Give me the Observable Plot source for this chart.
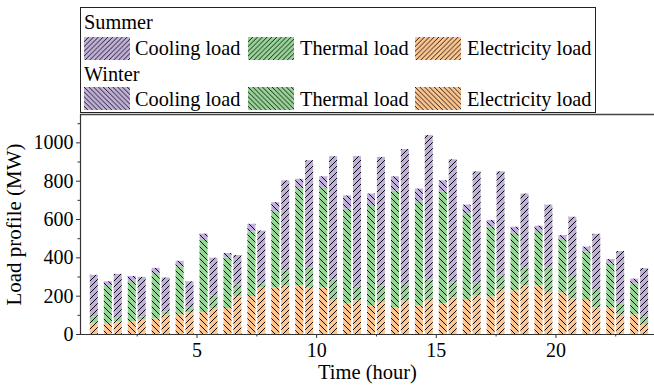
<!DOCTYPE html>
<html>
<head>
<meta charset="utf-8">
<script src="https://cdn.jsdelivr.net/npm/d3@7"></script>
<script src="https://cdn.jsdelivr.net/npm/@observablehq/plot@0.6"></script>
<style>
  html, body { margin: 0; padding: 0; background: #fff; }
  body { width: 654px; height: 387px; overflow: hidden; font-family: "Liberation Serif", "DejaVu Serif", serif; }
  #legend { position: relative; width: 654px; height: 113px; }
  #legend .box { position: absolute; left: 80px; top: 7px; width: 516px; height: 106px; border: 1px solid #222; box-sizing: border-box; }
  #legend .t { position: absolute; font-family: "Liberation Serif", "DejaVu Serif", serif; font-size: 20.3px; line-height: 24px; color: #000; white-space: nowrap; }
  #legend svg.sw { position: absolute; }
  #chart svg { display: block; }
  #chart svg text { font-family: "Liberation Serif", "DejaVu Serif", serif; }
  #chart g[aria-label="y-axis label"] text { font-size: 21px; }
  #chart g[aria-label="x-axis label"] text { font-size: 20.5px; }
</style>
</head>
<body>
<svg width="0" height="0" style="position:absolute">
  <defs id="defs"></defs>
</svg>
<div id="legend"></div>
<div id="chart"></div>
<script>
// ---- data ----
const hours = [1,2,3,4,5,6,7,8,9,10,11,12,13,14,15,16,17,18,19,20,21,22,23,24];
const seasons = ["Summer", "Winter"];
const loadTypes = ["Electricity load", "Thermal load", "Cooling load"];
const summerElectricity = [58, 67, 75, 103, 114, 135, 198, 244, 254, 246, 179, 175, 168, 175, 179, 191, 200, 233, 253, 219, 186, 139, 102, 53];
const summerThermal     = [35, 21, 16, 15, 26, 67, 60, 19, 79, 101, 105, 74, 86, 85, 105, 79, 67, 72, 93, 127, 117, 91, 56, 40];
const summerCooling     = [216, 226, 207, 177, 135, 196, 154, 277, 469, 560, 644, 679, 670, 705, 754, 642, 582, 544, 387, 329, 309, 293, 275, 251];
const winterElectricity = [58, 67, 81, 103, 114, 135, 198, 244, 254, 244, 160, 149, 139, 149, 160, 179, 196, 228, 254, 217, 179, 139, 102, 55];
const winterThermal     = [193, 210, 238, 251, 381, 263, 337, 396, 507, 522, 494, 519, 610, 544, 585, 451, 365, 300, 284, 274, 251, 228, 163, 200];
const winterCooling     = [24, 26, 26, 28, 29, 25, 40, 48, 49, 57, 69, 65, 74, 66, 57, 45, 34, 32, 27, 25, 26, 24, 24, 25];
const xMajorTicks = [5, 10, 15, 20];
const xMinorTicks = [2.5, 7.5, 12.5, 17.5, 22.5];
const yMajorTicks = [0, 200, 400, 600, 800, 1000];
const yMinorTicks = [100, 300, 500, 700, 900, 1100];

// ---- styles ----
const colors = {"Cooling load": "#c1b0d9", "Thermal load": "#98d598", "Electricity load": "#fdc691"};
const typeKey = {"Cooling load": "cool", "Thermal load": "therm", "Electricity load": "elec"};

// hatch patterns
const defs = document.getElementById("defs");
function addPattern(id, color, forward, size, sw) {
  const s = size;
  const d = forward
    ? `M${-s/4},${s/4} L${s/4},${-s/4} M0,${s} L${s},0 M${s*3/4},${s*5/4} L${s*5/4},${s*3/4}`
    : `M${-s/4},${s*3/4} L${s/4},${s*5/4} M0,0 L${s},${s} M${s*3/4},${-s/4} L${s*5/4},${s/4}`;
  defs.insertAdjacentHTML("beforeend",
    `<pattern id="${id}" patternUnits="userSpaceOnUse" width="${s}" height="${s}">` +
    `<rect width="${s}" height="${s}" fill="${color}"/>` +
    `<path d="${d}" stroke="#000" stroke-width="${sw}" fill="none"/></pattern>`);
}
for (const t of loadTypes) {
  addPattern(`Summer-${typeKey[t]}`, colors[t], true, 6, 0.95);
  addPattern(`Winter-${typeKey[t]}`, colors[t], false, 6, 0.95);
  addPattern(`lg-Summer-${typeKey[t]}`, colors[t], true, 4.8, 0.85);
  addPattern(`lg-Winter-${typeKey[t]}`, colors[t], false, 4.8, 0.85);
}

// ---- legend ----
const legend = document.getElementById("legend");
legend.insertAdjacentHTML("beforeend", `<div class="box"></div>`);
function addText(txt, left, cy) {
  legend.insertAdjacentHTML("beforeend", `<div class="t" style="left:${left}px;top:${cy - 12}px">${txt}</div>`);
}
function addSwatch(id, left, top) {
  legend.insertAdjacentHTML("beforeend",
    `<svg class="sw" width="46" height="23" style="left:${left}px;top:${top}px"><rect width="46" height="23" fill="url(#${id})"/></svg>`);
}
const legendOrder = ["Cooling load", "Thermal load", "Electricity load"];
const swLeft = [84, 248, 415], txLeft = [135, 300, 467];
seasons.forEach((s, si) => {
  const headY = si === 0 ? 22 : 73.5;
  const rowY = si === 0 ? 48 : 98.5;
  addText(s, 84, headY);
  legendOrder.forEach((t, ti) => {
    addSwatch(`lg-${s}-${typeKey[t]}`, swLeft[ti], rowY - 11.5);
    addText(t, txLeft[ti], rowY);
  });
});

// ---- build stacked rectangles ----
const barOffset = 0.293, barWidth = 0.335;
const series = {
  Summer: {off: -barOffset, "Electricity load": summerElectricity, "Thermal load": summerThermal, "Cooling load": summerCooling},
  Winter: {off: barOffset, "Electricity load": winterElectricity, "Thermal load": winterThermal, "Cooling load": winterCooling}
};
const rows = [];
for (const s of seasons) {
  hours.forEach((h, i) => {
    let base = 0;
    for (const t of loadTypes) {
      const v = series[s][t][i];
      rows.push({hour: h, season: s, type: t,
        x1: h + series[s].off - barWidth / 2, x2: h + series[s].off + barWidth / 2,
        y1: base, y2: base + v, fill: `url(#${s}-${typeKey[t]})`});
      base += v;
    }
  });
}

const xDomain = [0.13, 24.12];
const yDomain = [0, 1148];

const chart = Plot.plot({
  width: 654,
  height: 274,
  marginTop: 1,
  marginBottom: 53,
  marginLeft: 80,
  marginRight: 0,
  style: {fontFamily: "'Liberation Serif', 'DejaVu Serif', serif", fontSize: "20px", color: "#000", background: "#fff"},
  x: {domain: xDomain},
  y: {domain: yDomain},
  color: {type: "identity"},
  marks: [
    Plot.rect(rows, {x1: "x1", x2: "x2", y1: "y1", y2: "y2", fill: "fill", clip: true}),
    Plot.axisX({ticks: xMajorTicks, tickSize: 4, tickPadding: 4.5, tickFormat: d3.format("d"), label: "Time (hour)", labelAnchor: "center", labelOffset: 44, labelArrow: "none", stroke: "#333"}),
    Plot.axisX({ticks: xMinorTicks, tickSize: 2.5, tickFormat: () => "", label: null, stroke: "#333"}),
    Plot.axisY({ticks: yMajorTicks, tickSize: 4, tickPadding: 3, tickFormat: d3.format("d"), label: "Load profile (MW)", labelAnchor: "center", labelOffset: 74, labelArrow: "none", stroke: "#333"}),
    Plot.axisY({ticks: yMinorTicks, tickSize: 2.5, tickFormat: () => "", label: null, stroke: "#333"}),
    Plot.ruleY([yDomain[0]], {stroke: "#333", strokeWidth: 1.2}),
    Plot.ruleY([yDomain[1]], {stroke: "#444", strokeWidth: 1.5}),
    Plot.ruleX([xDomain[0]], {stroke: "#333", strokeWidth: 1.2})
  ]
});
document.getElementById("chart").appendChild(chart);
</script>
</body>
</html>
